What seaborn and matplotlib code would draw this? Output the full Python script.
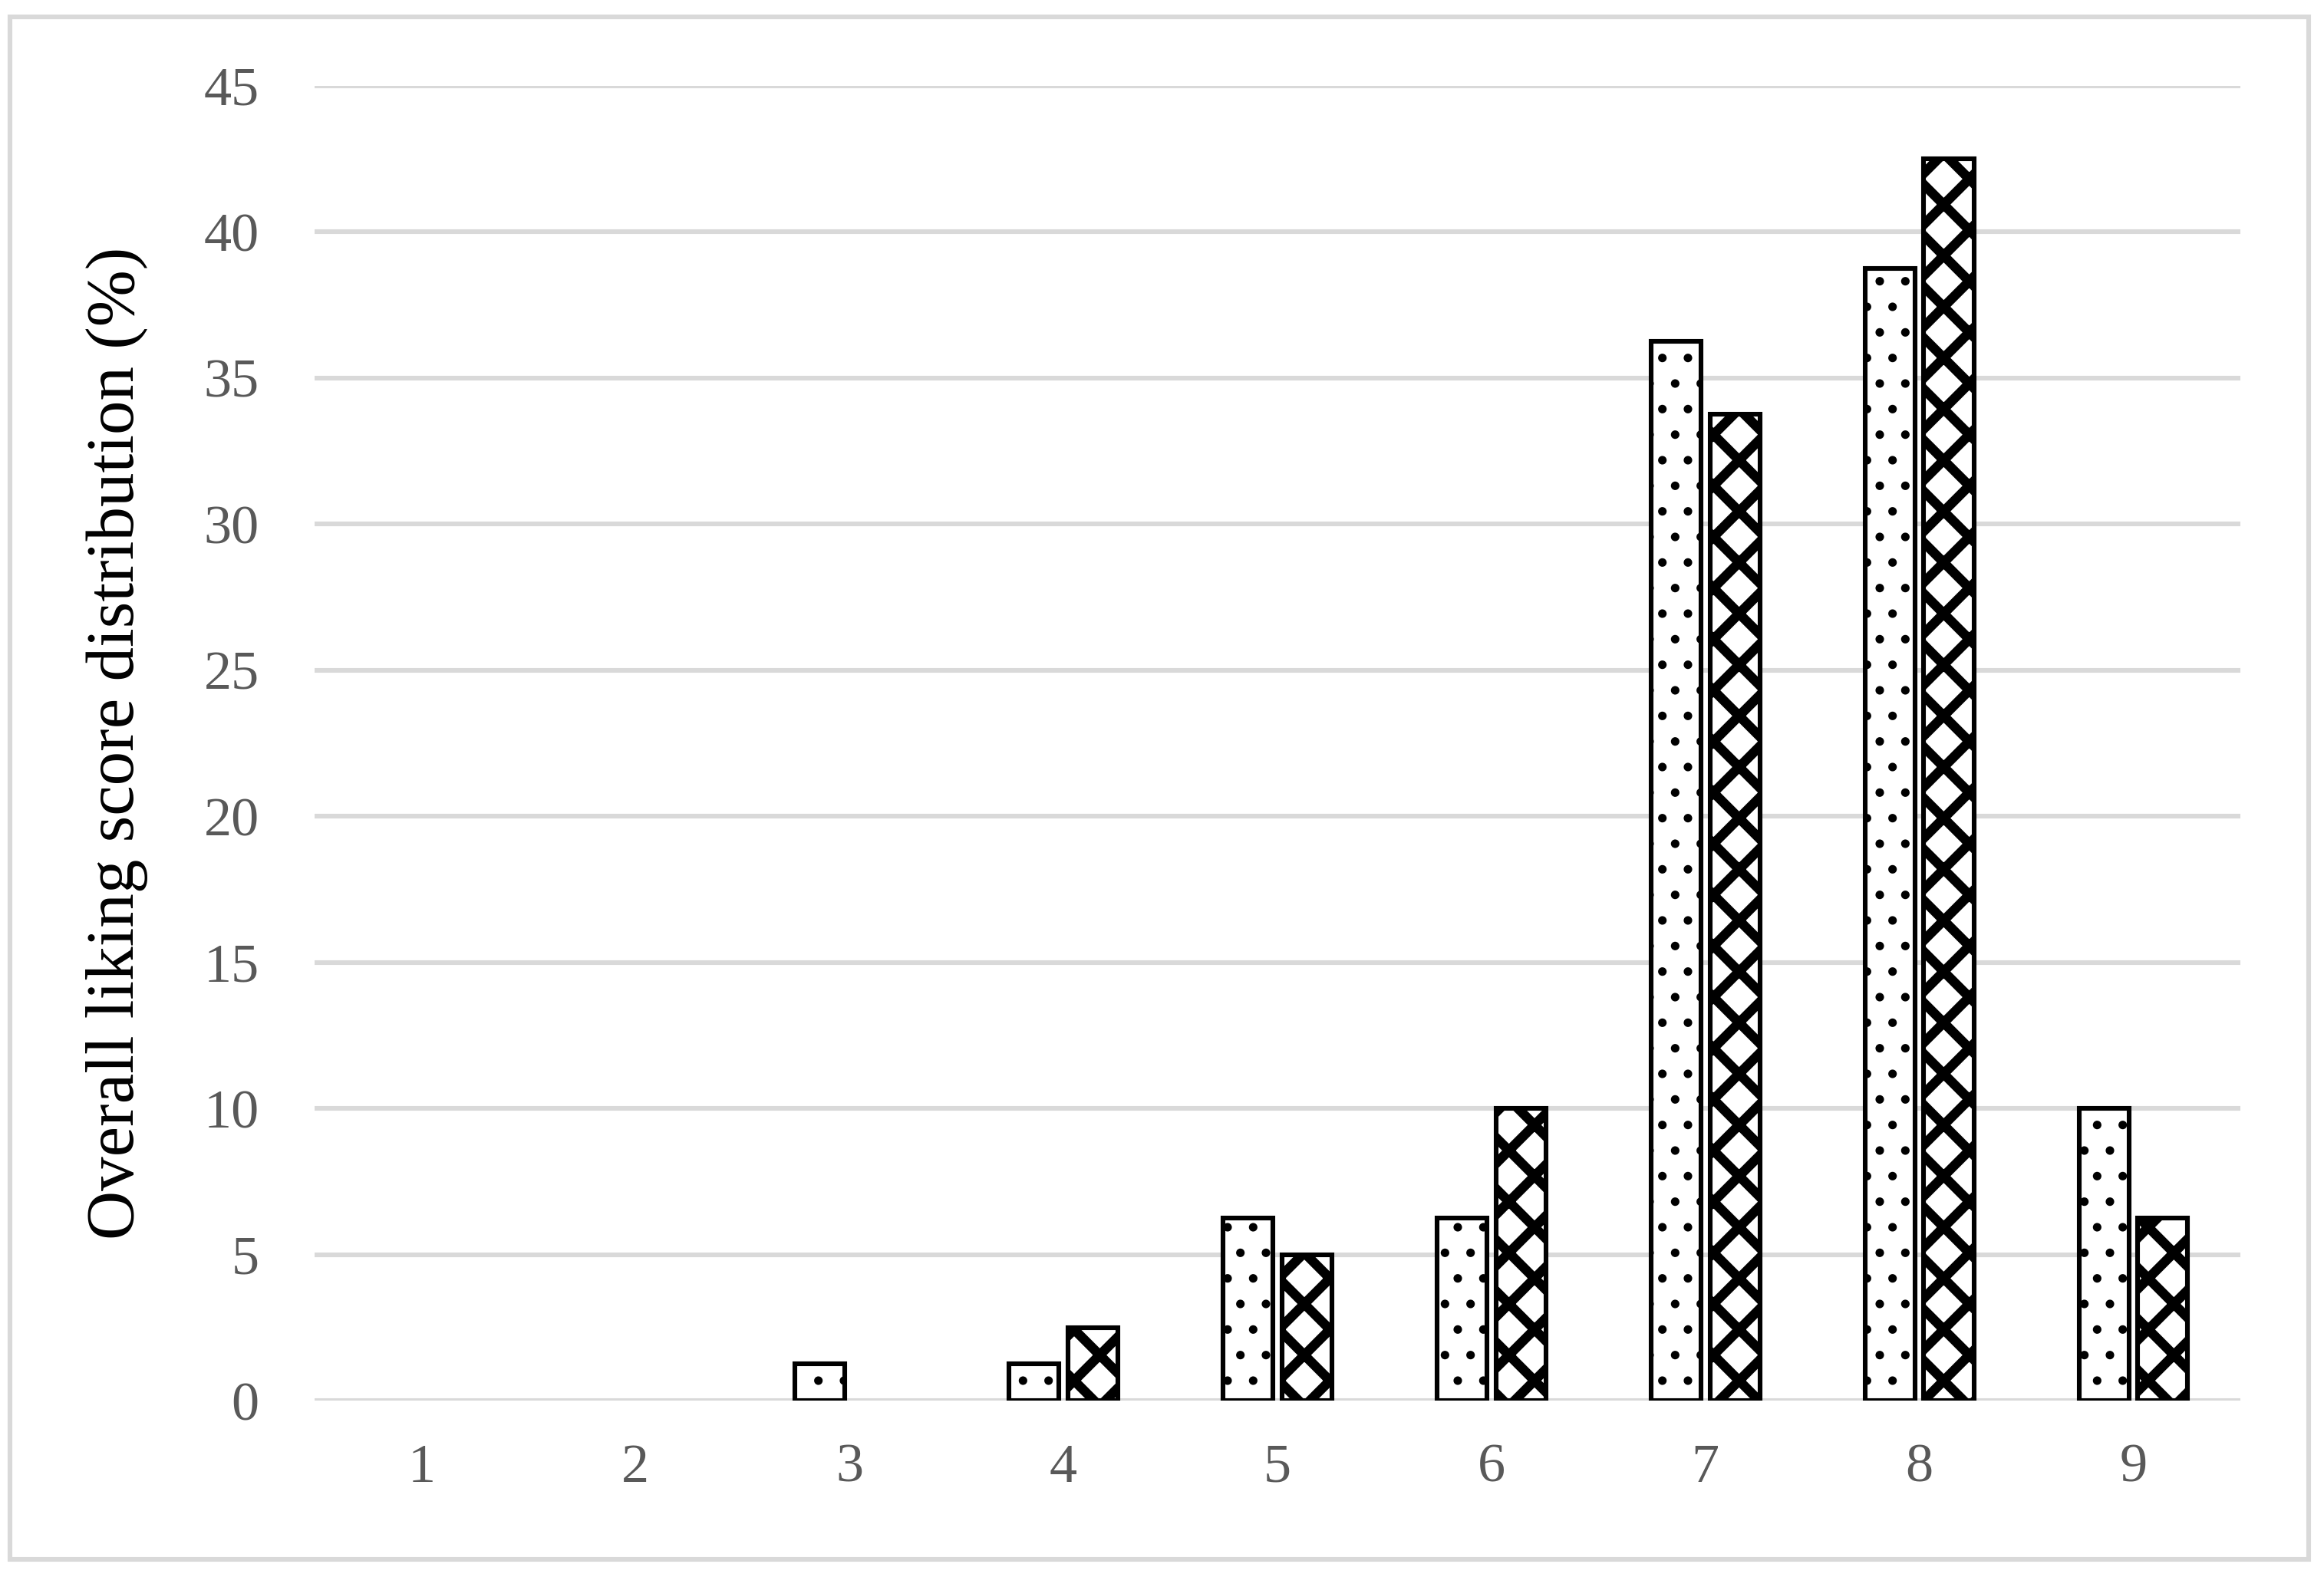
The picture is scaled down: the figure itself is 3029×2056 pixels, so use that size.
# Overall liking score distribution - grouped bar chart with patterns
import pandas as pd
import numpy as np
import matplotlib
matplotlib.use("Agg")
import matplotlib.pyplot as plt
from matplotlib.patches import Rectangle
import seaborn as sns

# data
scores = ["1", "2", "3", "4", "5", "6", "7", "8", "9"]
sample_a = [0, 0, 1.25, 1.25, 6.25, 6.25, 36.25, 38.75, 10.0]
sample_b = [0, 0, 0, 2.5, 5.0, 10.0, 33.75, 42.5, 6.25]
y_ticks = [0, 5, 10, 15, 20, 25, 30, 35, 40, 45]

df = pd.DataFrame({
    "score": scores * 2,
    "value": sample_a + sample_b,
    "sample": ["A"] * len(scores) + ["B"] * len(scores),
})

sns.set_style("white")
plt.rcParams["font.family"] = ["Liberation Serif", "DejaVu Serif"]
plt.rcParams["hatch.linewidth"] = 1.6
plt.rcParams["hatch.color"] = "black"

fig = plt.figure(figsize=(15.145, 10.28), dpi=200)
ax = fig.add_axes([410 / 3029, 1 - 1826 / 2056, (2920 - 410) / 3029, (1826 - 112) / 2056])

sns.barplot(data=df, x="score", y="value", hue="sample", order=scores,
            palette=["white", "white"], width=0.55, gap=0.15,
            edgecolor="black", linewidth=2.2, legend=False, ax=ax)

# patterns per series: sparse dots / black diamonds
n = len(scores)
for i, bar in enumerate(ax.patches[:2 * n]):
    if i < n:
        bar.set_hatch(".")
    else:
        bar.set_hatch("x")
        try:
            bar.set_hatch_linewidth(4.5)
        except AttributeError:
            pass
    if bar.get_height() == 0:
        bar.set_visible(False)

ax.set_ylim(0, 45)
ax.set_xlim(-0.5, n - 0.5)
ax.set_yticks(y_ticks)
ax.yaxis.grid(True, color="#d9d9d9", linewidth=2.2)
ax.set_axisbelow(True)
for s in ax.spines.values():
    s.set_visible(False)
ax.tick_params(axis="both", length=0, labelsize=26, labelcolor="#595959")
ax.tick_params(axis="y", pad=26)
ax.tick_params(axis="x", pad=20)
ax.set_xlabel("")
ax.set_ylabel("Overall liking score distribution (%)", fontsize=32, color="black", labelpad=26)

# light grey frame round the whole figure
fig.patches.append(Rectangle((13 / 3029, 1 - 2033 / 2056), (3009 - 13) / 3029, (2033 - 22) / 2056,
                             transform=fig.transFigure, fill=False,
                             edgecolor="#d9d9d9", linewidth=2.2))

fig.savefig("out.png", dpi=200)
